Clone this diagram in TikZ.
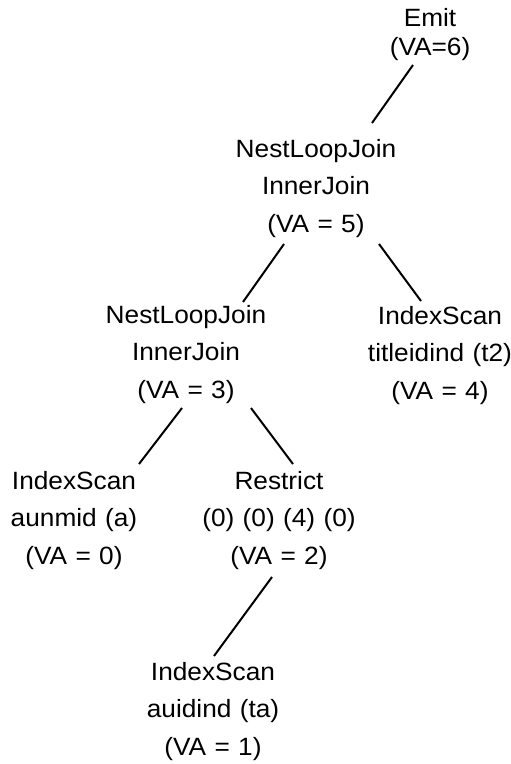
\documentclass[tikz,border=0pt]{standalone}
\usepackage{fontspec}
\setmainfont[FakeStretch=1.05]{Liberation Sans}
\begin{document}
\begin{tikzpicture}[x=1pt,y=-1pt,
  lbl/.style={inner sep=0pt, outer sep=0pt, anchor=base, align=center, text width=200pt,
    font=\fontsize{25}{37.5}\selectfont},
  edge/.style={line width=2pt, black}]
\useasboundingbox (0,0) rectangle (511,764);
\node[lbl, font=\fontsize{25}{29}\selectfont] (emit) at (430,26) {Emit\\(VA=6)};
\node[lbl] (nlj1) at (316,157) {NestLoopJoin\\InnerJoin\\(VA = 5)};
\node[lbl] (nlj2) at (186,323) {NestLoopJoin\\InnerJoin\\(VA = 3)};
\node[lbl] (t2) at (440,324) {IndexScan\\titleidind (t2)\\(VA = 4)};
\node[lbl] (aun) at (74,489) {IndexScan\\aunmid (a)\\(VA = 0)};
\node[lbl] (res) at (279,489) {Restrict\\(0) (0) (4) (0)\\(VA = 2)};
\node[lbl] (aui) at (213,680) {IndexScan\\auidind (ta)\\(VA = 1)};
\draw[edge] ([shift={(-17,39)}]emit.base) -- ([shift={(56,-34)}]nlj1.base);
\draw[edge] ([shift={(-32,87)}]nlj1.base) -- ([shift={(57,-21)}]nlj2.base);
\draw[edge] ([shift={(63,87)}]nlj1.base) -- ([shift={(-19,-23)}]t2.base);
\draw[edge] ([shift={(-4,85)}]nlj2.base) -- ([shift={(65,-25)}]aun.base);
\draw[edge] ([shift={(65,85)}]nlj2.base) -- ([shift={(14,-25)}]res.base);
\draw[edge] ([shift={(-7,88)}]res.base) -- ([shift={(1,-24)}]aui.base);
\end{tikzpicture}
\end{document}
